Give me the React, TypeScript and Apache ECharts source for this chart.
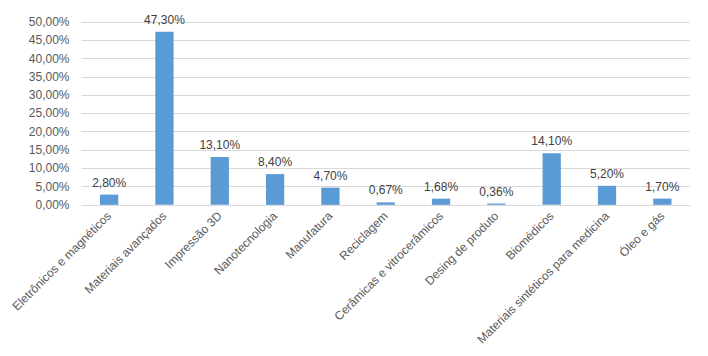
import React, { useEffect, useRef } from "react";
import * as echarts from "echarts";

const categories = [
  "Eletrônicos e magnéticos",
  "Materiais avançados",
  "Impressão 3D",
  "Nanotecnologia",
  "Manufatura",
  "Reciclagem",
  "Cerâmicas e vitrocerâmicos",
  "Desing de produto",
  "Biomédicos",
  "Materiais sintéticos para medicina",
  "Óleo e gás",
];
const values = [2.8, 47.3, 13.1, 8.4, 4.7, 0.67, 1.68, 0.36, 14.1, 5.2, 1.7];

const fmt = (v: number) => v.toFixed(2).replace(".", ",") + "%";

export default function App() {
  const ref = useRef<HTMLDivElement>(null);
  useEffect(() => {
    const chart = echarts.init(ref.current!, undefined, { renderer: "svg" });
    const font = "Liberation Sans";
    chart.setOption({
      animation: false,
      grid: { left: 73, right: 10, top: 14, bottom: 143 },
      xAxis: {
        type: "category",
        data: categories,
        axisTick: { show: false },
        axisLine: { lineStyle: { color: "#d9d9d9" } },
        axisLabel: {
          rotate: 45,
          interval: 0,
          color: "#595959",
          fontSize: 12,
          fontFamily: font,
          margin: 9,
        },
      },
      yAxis: {
        type: "value",
        min: 0,
        max: 50,
        interval: 5,
        axisLine: { show: false },
        axisTick: { show: false },
        splitLine: { lineStyle: { color: "#d9d9d9" } },
        axisLabel: {
          formatter: (v: number) => fmt(v),
          color: "#595959",
          fontSize: 12,
          fontFamily: font,
          margin: 12,
        },
      },
      series: [
        {
          type: "bar",
          data: values,
          barWidth: "33%",
          itemStyle: { color: "#5b9bd5" },
          label: {
            show: true,
            position: "top",
            distance: 6,
            formatter: (p: any) => fmt(p.value),
            color: "#404040",
            fontSize: 12,
            fontFamily: font,
          },
        },
      ],
    });
    return () => chart.dispose();
  }, []);
  return <div ref={ref} style={{ width: 692, height: 340 }} />;
}
